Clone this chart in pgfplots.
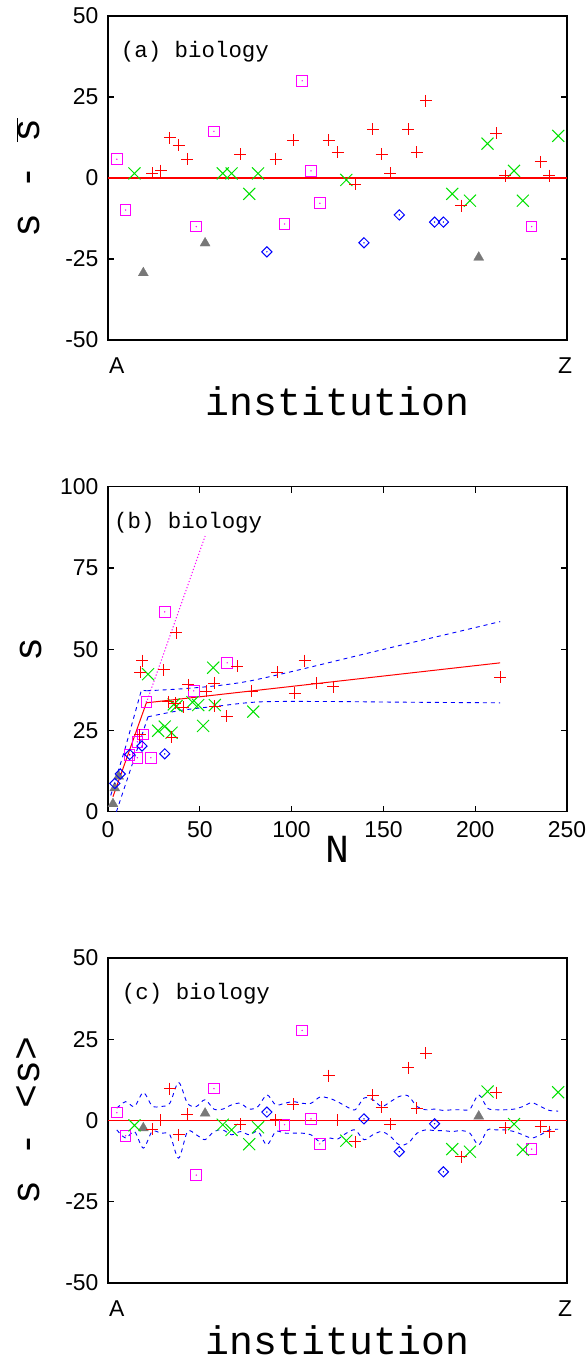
\documentclass[border=0pt]{standalone}
\usepackage{pgfplots}
\pgfplotsset{compat=1.18}
\usepackage{fontspec}
\setmainfont{Liberation Sans}
\newfontfamily\cour{Liberation Mono}
\definecolor{gpred}{RGB}{255,0,0}
\definecolor{gpgreen}{RGB}{0,225,0}
\definecolor{gpblue}{RGB}{0,0,255}
\definecolor{gpmag}{RGB}{255,0,255}
\definecolor{gpgray}{RGB}{120,120,120}
\pgfplotsset{
  gp/.style={width=459bp,height=324bp,scale only axis,
    axis line style={line width=1.5bp},
    tick style={line width=1.2bp,black},
    major tick length=6bp,
    tick label style={font=\fontsize{23}{26}\selectfont},
    yticklabel style={xshift=-6bp},
    xticklabel style={yshift=-6bp},
    clip=true},
  psq/.style={color=gpmag,only marks,mark=square,mark size=5.3bp,line width=1bp,mark options={solid,draw=gpmag}},
  psqd/.style={color=gpmag,only marks,mark=*,mark size=0.45bp,mark options={draw=gpmag,fill=gpmag}},
  ptri/.style={color=gpgray,only marks,mark=triangle*,mark size=5.8bp,line width=0.3bp,mark options={draw=gpgray,fill=gpgray}},
  pdia/.style={color=gpblue,only marks,mark=square,mark size=3.6bp,line width=1bp,mark options={draw=gpblue,rotate=45}},
  pdiad/.style={color=gpblue,only marks,mark=*,mark size=0.45bp,mark options={draw=gpblue,fill=gpblue}},
  px/.style={color=gpgreen,only marks,mark=x,mark size=8.5bp,line width=1bp,mark options={draw=gpgreen}},
  pp/.style={color=gpred,only marks,mark=+,mark size=6bp,line width=1bp,mark options={draw=gpred}},
  band/.style={color=gpblue,line width=0.9bp,dash pattern=on 4bp off 4bp,no marks},
}
\begin{document}
\begin{tikzpicture}
\useasboundingbox (0,0) rectangle (588bp,1361bp);
% ---------------- (a)
\begin{axis}[gp,at={(108bp,1021bp)},anchor=south west,
  xmin=0,xmax=52,ymin=-50,ymax=50,
  ytick={-50,-25,0,25,50},yticklabels={-50,-25,0,25,50},
  xtick={1,51.8},xticklabels={A,Z},xtick style={draw=none},
  xticklabel style={yshift=-8bp},
  ytick pos=both,
  xlabel={\cour\fontsize{40}{44}\selectfont institution},
  xlabel style={at={(axis description cs:0.5,-0.188)},anchor=center},
  ylabel={\cour\fontsize{40}{44}\selectfont s - $\overline{\hbox{s}}$},
  ylabel style={at={(axis description cs:-0.174,0.5)},anchor=center},
]
\addplot[gpred,line width=1.2bp,no marks] coordinates {(0,0) (52,0)};
\addplot[psq] coordinates {(1,5.8) (2,-9.9) (10,-15) (12,14.4) (20,-14.2) (22,30) (23,2.2) (24,-7.8) (48,-15)};
\addplot[psqd] coordinates {(1,5.8) (2,-9.9) (10,-15) (12,14.4) (20,-14.2) (22,30) (23,2.2) (24,-7.8) (48,-15)};
\addplot[ptri] coordinates {(4,-29.3) (11,-20.1) (42,-24.5)};
\addplot[pdia] coordinates {(18,-22.8) (29,-20) (33,-11.4) (37,-13.6) (38,-13.6)};
\addplot[pdiad] coordinates {(18,-22.8) (29,-20) (33,-11.4) (37,-13.6) (38,-13.6)};
\addplot[px] coordinates {(3,1.4) (13,1.4) (14,1.4) (16,-4.9) (17,1.4) (27,-0.6) (39,-4.9) (41,-7.0) (43,10.6) (46,2.2) (47,-7.0) (51,13)};
\addplot[pp] coordinates {(5,1.4) (6,2.3) (7,12.4) (8,10.1) (9,5.8) (15,7.3) (19,5.8) (21,11.6) (25,11.6) (26,7.9) (28,-2) (30,15.1) (31,7.3) (32,1.5) (34,15.1) (35,7.9) (36,23.8) (40,-8.5) (44,13.8) (45,0.7) (49,5.0) (50,0.7)};
\node[anchor=base west,inner sep=0pt] at (axis description cs:0.0277,0.872) {\cour\fontsize{22.5}{25}\selectfont (a) biology};
\end{axis}
% ---------------- (b)
\begin{axis}[gp,height=325bp,at={(108bp,549.3bp)},anchor=south west,
  xmin=0,xmax=250,ymin=0,ymax=100,
  xtick={0,50,100,150,200,250},xticklabels={0,50,100,150,200,250},
  ytick={0,25,50,75,100},yticklabels={0,25,50,75,100},
  xtick pos=both,ytick pos=both,
  xlabel={\cour\fontsize{40}{44}\selectfont N},
  xlabel style={at={(axis description cs:0.5,-0.115)},anchor=center},
  ylabel={\cour\fontsize{40}{44}\selectfont s},
  ylabel style={at={(axis description cs:-0.168,0.5)},anchor=center},
]
\addplot[color=gpmag,line width=1bp,dash pattern=on 1.2bp off 2bp,no marks] coordinates {(20.9,33.5) (52.9,84.8)};
\addplot[band] coordinates {(1.5,5) (9.1,19) (18.2,37.4) (21,37.2)};
\addplot[band,smooth] coordinates {(21,37.2) (40,37.8) (60,38.8) (77,40.2) (100,43.1) (130,47.2) (160,51.3) (190,55.3) (213.6,58.5)};
\addplot[band] coordinates {(4.6,0) (21.8,29.2)};
\addplot[band,smooth] coordinates {(21.8,29.2) (40,31.2) (60,32.5) (83,33.8) (120,33.9) (160,33.7) (213.6,33.5)};
\addplot[color=gpred,line width=1bp,no marks] coordinates {(2.7,4.6) (20.9,33.5) (213.6,45.8)};
\addplot[psq] coordinates {(30.9,61.5) (64.9,45.8) (46.7,37.2) (20.9,33.8) (19.1,23.7) (16,21.5) (11.8,17.4) (16,16.6) (23.3,16.6)};
\addplot[psqd] coordinates {(30.9,61.5) (64.9,45.8) (46.7,37.2) (20.9,33.8) (19.1,23.7) (16,21.5) (11.8,17.4) (16,16.6) (23.3,16.6)};
\addplot[ptri] coordinates {(2.7,2.4) (5.8,10.9) (3.7,7.3)};
\addplot[pdia] coordinates {(3.7,8.7) (6.7,11.6) (18.5,20.2) (11.8,17.6) (30.9,17.8)};
\addplot[pdiad] coordinates {(3.7,8.7) (6.7,11.6) (18.5,20.2) (11.8,17.6) (30.9,17.8)};
\addplot[px] coordinates {(21.8,42.3) (57.3,44.3) (35.8,33) (37.3,32.5) (46,33.7) (49.1,32.8) (58.2,32.8) (79.1,30.8) (51.8,26.4) (27.3,24.9) (30.9,26.2) (34.6,24.3)};
\addplot[pp] coordinates {(37.3,55.1) (18.7,46.5) (17.7,42.9) (30.4,43.6) (70.3,44.8) (107.1,46.5) (92.2,42.9) (213.6,41.3) (43.8,39) (57.8,39.5) (53.6,37.1) (78.4,37.1) (113.8,39.5) (122.7,38.5) (101.8,36.4) (32.7,33.8) (40.9,32.1) (58.2,32.5) (64.6,29.4) (34.6,22.9) (36.5,33.3) (17.3,23.6)};
\node[anchor=base west,inner sep=0pt] at (axis description cs:0.013,0.872) {\cour\fontsize{22.5}{25}\selectfont (b) biology};
\end{axis}
% ---------------- (c)
\begin{axis}[gp,height=325bp,at={(108bp,78bp)},anchor=south west,
  xmin=0,xmax=52,ymin=-50,ymax=50,
  ytick={-50,-25,0,25,50},yticklabels={-50,-25,0,25,50},
  xtick={1,51.8},xticklabels={A,Z},xtick style={draw=none},
  xticklabel style={yshift=-8bp},
  ytick pos=both,
  xlabel={\cour\fontsize{40}{44}\selectfont institution},
  xlabel style={at={(axis description cs:0.5,-0.177)},anchor=center},
  ylabel={\cour\fontsize{40}{44}\selectfont s - <s>},
  ylabel style={at={(axis description cs:-0.174,0.5)},anchor=center},
]
\addplot[gpred,line width=1.2bp,no marks] coordinates {(0,0) (52,0)};
\addplot[band,smooth] coordinates {(1,3.8) (2,5.8) (3,4.3) (4,8.6) (5,4.5) (6,4.3) (7,5.3) (8,11.7) (9,5.3) (10,4.3) (11,6.4) (12,3.5) (13,3.5) (14,4.8) (15,5.3) (16,3.5) (17,4.3) (18,7.9) (19,4.8) (20,5.3) (21,5.8) (22,5.3) (23,5.3) (24,7.2) (25,6.9) (26,5.8) (27,4.3) (28,3.3) (29,6.9) (30,6.4) (31,4.3) (32,5.8) (33,7.4) (34,7.6) (35,4.3) (36,3.3) (37,3.5) (38,3.1) (39,3.3) (40,3.3) (41,3.5) (42,7.9) (43,3.8) (44,3.3) (45,3.3) (46,3.5) (47,4.3) (48,5.5) (49,4.3) (50,3.1) (51,2.9)};
\addplot[band,smooth] coordinates {(1,-2.9) (2,-5.4) (3,-3.4) (4,-8.5) (5,-3.4) (6,-3.9) (7,-4.4) (8,-11.6) (9,-3.4) (10,-4.4) (11,-5.9) (12,-3.4) (13,-2.9) (14,-4.4) (15,-3.4) (16,-4.4) (17,-3.4) (18,-7.5) (19,-3.4) (20,-3.9) (21,-3.9) (22,-3.9) (23,-4.4) (24,-6.5) (25,-5.4) (26,-5.7) (27,-3.9) (28,-2.9) (29,-5.9) (30,-4.4) (31,-3.4) (32,-4.9) (33,-7.5) (34,-7) (35,-3.9) (36,-2.9) (37,-3.1) (38,-3.1) (39,-3.4) (40,-3.1) (41,-3.9) (42,-7.5) (43,-2.9) (44,-2.9) (45,-2.9) (46,-3.4) (47,-4.4) (48,-5.4) (49,-4.4) (50,-2.9) (51,-2.7)};
\addplot[psq] coordinates {(1,2.4) (2,-4.7) (10,-16.8) (12,9.8) (20,-1.3) (22,27.7) (23,0.5) (24,-7.2) (48,-8.8)};
\addplot[psqd] coordinates {(1,2.4) (2,-4.7) (10,-16.8) (12,9.8) (20,-1.3) (22,27.7) (23,0.5) (24,-7.2) (48,-8.8)};
\addplot[ptri] coordinates {(4,-2.3) (11,2.2) (42,1.3)};
\addplot[pdia] coordinates {(18,2.6) (29,0.5) (33,-9.6) (37,-1) (38,-15.8)};
\addplot[pdiad] coordinates {(18,2.6) (29,0.5) (33,-9.6) (37,-1) (38,-15.8)};
\addplot[px] coordinates {(3,-1.5) (13,-1.3) (14,-2.9) (16,-7.3) (17,-2.1) (27,-6.2) (39,-8.8) (41,-9.6) (43,8.9) (46,-1.1) (47,-9.0) (51,8.7)};
\addplot[pp] coordinates {(5,-2.7) (6,0) (7,9.8) (8,-4.4) (9,1.9) (15,-1.1) (19,0.2) (21,5) (25,13.8) (26,0) (28,-6.6) (30,7.7) (31,4.1) (32,-1.1) (34,16.3) (35,3.8) (36,20.7) (40,-11.1) (44,8.6) (45,-2.3) (49,-1.9) (50,-3.4)};
\node[anchor=base west,inner sep=0pt] at (axis description cs:0.030,0.873) {\cour\fontsize{22.5}{25}\selectfont (c) biology};
\end{axis}
\end{tikzpicture}
\end{document}
